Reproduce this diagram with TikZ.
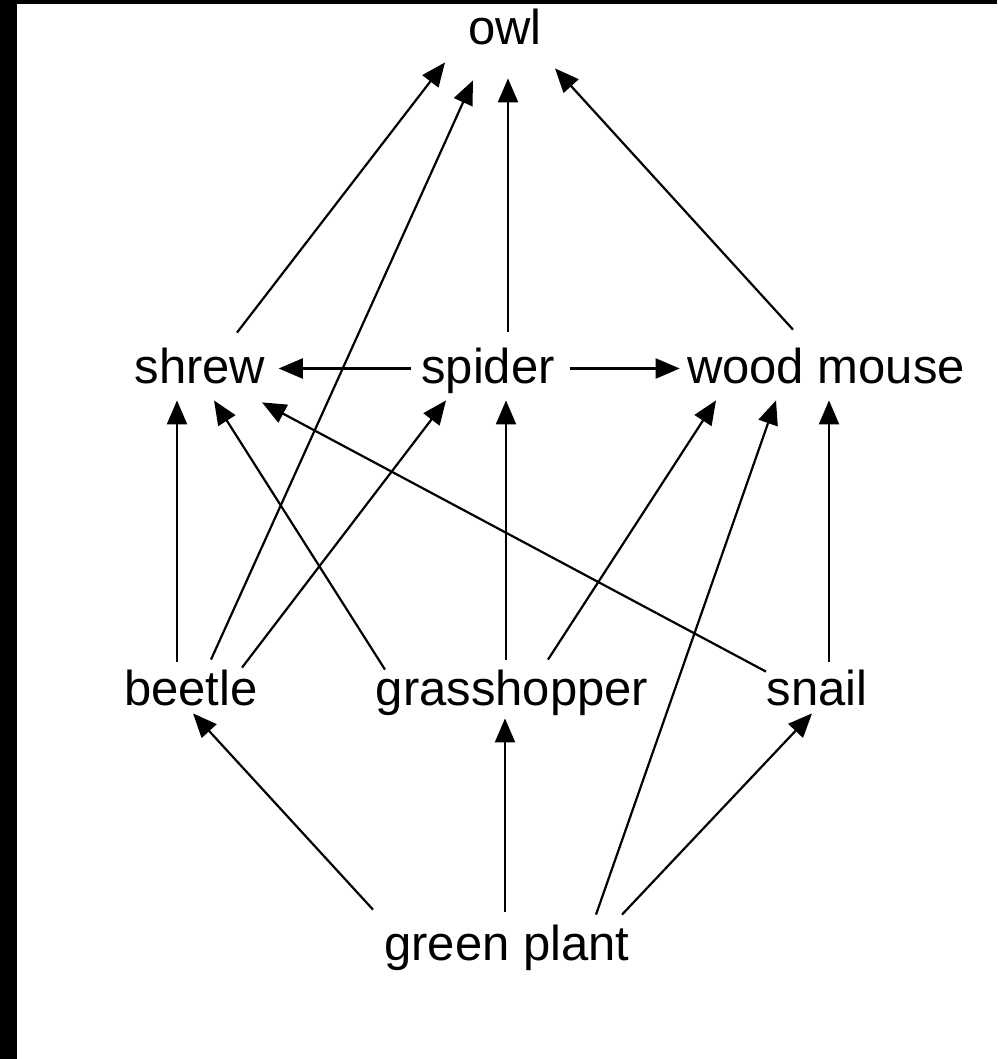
\documentclass[tikz,border=0pt]{standalone}
\usepackage{fontspec}
\setmainfont{Liberation Sans}
\usetikzlibrary{arrows.meta}

\begin{document}
\begin{tikzpicture}[
            x=0.5pt, y=-0.5pt,
            species/.style={inner sep=0pt, anchor=base, text height=17.5pt, text depth=6pt, font=\fontsize{24.5pt}{29pt}\selectfont},
            feeds/.style={-{Triangle[length=12pt, width=10pt]}, line width=1.1pt},
        ]
            \fill[black] (0,0) rectangle (997,1059);
            \fill[white] (17,4) rectangle (997,1059);
            \useasboundingbox (0,0) rectangle (997,1059);

            \node[species] (owl) at (505,45) {owl};
            \node[species] (shrew) at (200,383) {shrew};
            \node[species] (spider) at (488,383) {spider};
            \node[species] (mouse) at (826,383) {wood mouse};
            \node[species] (beetle) at (191,705) {beetle};
            \node[species] (hopper) at (512,705) {grasshopper};
            \node[species] (snail) at (817,705) {snail};
            \node[species] (plant) at (507,960) {green plant};

            % to the owl
            \draw[feeds] ([shift={(37,-15)}]shrew.north) -- ([shift={(-60,5)}]owl.south);
            \draw[feeds] ([shift={(20,-10)}]beetle.north) -- ([shift={(-32,23)}]owl.south);
            \draw[feeds] ([shift={(20,-16)}]spider.north) -- ([shift={(3,21)}]owl.south);
            \draw[feeds] ([shift={(-33,-18)}]mouse.north) -- ([shift={(50,11)}]owl.south);

            % middle row
            \draw[feeds] ([shift={(-10,-3)}]spider.west) -- ([shift={(13,-3)}]shrew.east);
            \draw[feeds] ([shift={(15,-3)}]spider.east) -- ([shift={(-7,-3)}]mouse.west);
            \draw[feeds] ([shift={(-14,-8)}]beetle.north) -- ([shift={(-23,5)}]shrew.south);
            \draw[feeds] ([shift={(51,-2)}]beetle.north) -- ([shift={(-42,5)}]spider.south);
            \draw[feeds] ([shift={(-127,0)}]hopper.north) -- ([shift={(14,5)}]shrew.south);
            \draw[feeds] ([shift={(-6,-10)}]hopper.north) -- ([shift={(18,5)}]spider.south);
            \draw[feeds] ([shift={(36,-10)}]hopper.north) -- ([shift={(-110,5)}]mouse.south);
            \draw[feeds] ([shift={(-51,2)}]snail.north) -- ([shift={(62,7)}]shrew.south);
            \draw[feeds] ([shift={(12,-8)}]snail.north) -- ([shift={(3,5)}]mouse.south);

            % from the green plant
            \draw[feeds] ([shift={(-134,-15)}]plant.north) -- ([shift={(2,-4)}]beetle.south);
            \draw[feeds] ([shift={(-2,-13)}]plant.north) -- ([shift={(-7,1)}]hopper.south);
            \draw[feeds] ([shift={(89,-10)}]plant.north) -- ([shift={(-50,5)}]mouse.south);
            \draw[feeds] ([shift={(115,-10)}]plant.north) -- ([shift={(-5,-4)}]snail.south);

        \end{tikzpicture}
\end{document}
